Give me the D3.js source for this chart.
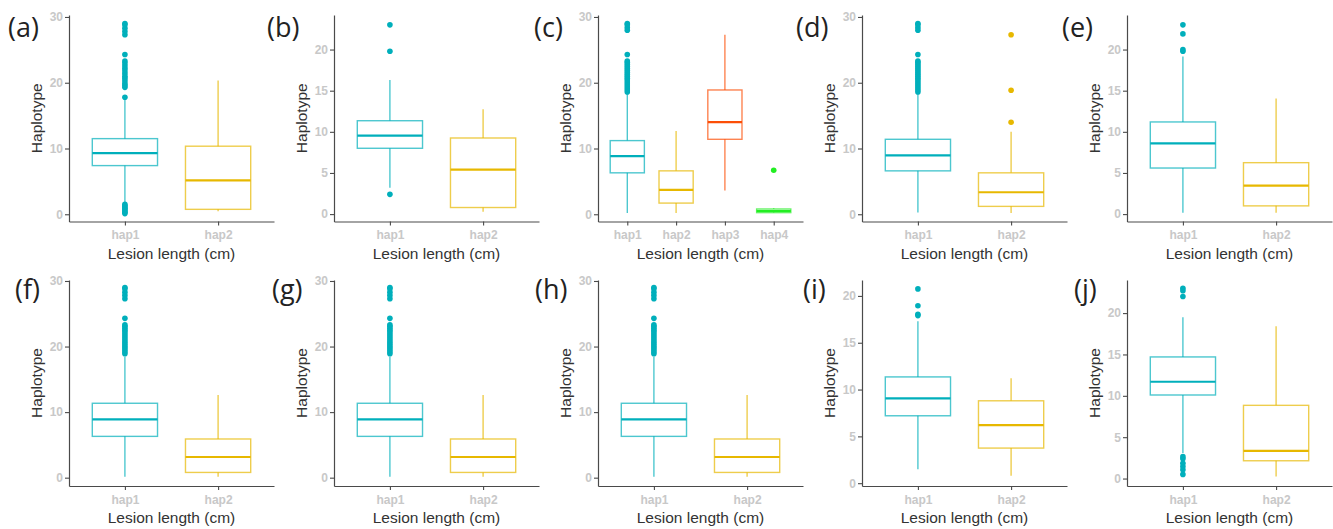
<!DOCTYPE html>
<html><head><meta charset="utf-8">
<script src="https://cdn.jsdelivr.net/npm/d3@7"></script>
<style>body{margin:0;background:#fff}</style>
</head><body><svg id="chart" width="1333" height="529"></svg>
<script>
// ---------- data ----------
const panelLabels = ["(a)","(b)","(c)","(d)","(e)","(f)","(g)","(h)","(i)","(j)"];
const panelCategories = [
  ["hap1","hap2"],["hap1","hap2"],["hap1","hap2","hap3","hap4"],["hap1","hap2"],["hap1","hap2"],
  ["hap1","hap2"],["hap1","hap2"],["hap1","hap2"],["hap1","hap2"],["hap1","hap2"]
];
const yTickValues = [
  [0,10,20,30],[0,5,10,15,20],[0,10,20,30],[0,10,20,30],[0,5,10,15,20],
  [0,10,20,30],[0,10,20,30],[0,10,20,30],[0,5,10,15,20],[0,5,10,15,20]
];
const yDomains = [
  [-1.1,30.3],[-0.9,24.2],[-1.1,30.3],[-1.1,30.3],[-0.9,24.2],
  [-1.27,30.15],[-1.27,30.15],[-1.27,30.15],[-0.3,21.7],[-0.9,24.0]
];
// box stats: [lower whisker, q1, median, q3, upper whisker]
const hap1Box = [
  [1.6,7.4,9.3,11.5,17.4],[3.2,8.0,9.55,11.35,16.3],[0.2,6.3,8.85,11.2,18.3],[0.25,6.6,8.95,11.4,18.3],[0.16,5.6,8.6,11.2,19.15],
  [0.15,6.3,8.9,11.35,18.45],[0.15,6.3,8.9,11.35,18.45],[0.15,6.3,8.9,11.35,18.45],[1.5,7.2,9.05,11.35,17.3],[3.1,10.1,11.7,14.7,19.5]
];
const hap2Box = [
  [0.45,0.75,5.15,10.35,20.35],[0.3,0.8,5.4,9.25,12.75],[0.2,1.7,3.7,6.6,12.65],[0.2,1.2,3.35,6.3,12.55],[0.16,1.0,3.45,6.25,14.05],
  [0.15,0.8,3.15,5.9,12.6],[0.15,0.8,3.15,5.9,12.6],[0.15,0.8,3.15,5.9,12.6],[0.8,3.75,6.2,8.8,11.2],[0.25,2.15,3.35,8.85,18.4]
];
const hap3Box = [null,null,[3.6,11.4,14.0,18.9,27.3],null,null,null,null,null,null,null];
const hap4Box = [null,null,[0.2,0.25,0.5,0.8,0.9],null,null,null,null,null,null,null];
const hap1Outliers = [
  [0.1,0.3,0.5,0.7,0.9,1.1,1.3,1.5,17.8,19.3,19.6,19.9,20.3,20.7,21.0,21.4,21.8,22.2,22.6,23.0,23.3,24.3,27.3,27.8,28.3,28.8,29.0],
  [2.4,19.8,23.0],
  [18.6,18.9,19.2,19.5,19.8,20.1,20.4,20.7,21.0,21.3,21.6,21.9,22.2,22.5,22.8,23.1,23.3,24.3,28.0,28.4,28.8,29.0],
  [18.6,18.9,19.2,19.5,19.8,20.1,20.4,20.7,21.0,21.3,21.6,21.9,22.2,22.5,22.8,23.1,23.3,24.3,28.0,28.4,28.8,29.0],
  [19.8,20.0,21.9,23.0],
  [18.9,19.2,19.5,19.8,20.1,20.4,20.7,21.0,21.3,21.6,21.9,22.2,22.5,22.8,23.1,23.3,24.3,27.3,27.8,28.3,28.8,29.0],
  [18.9,19.2,19.5,19.8,20.1,20.4,20.7,21.0,21.3,21.6,21.9,22.2,22.5,22.8,23.1,23.3,24.3,27.3,27.8,28.3,28.8,29.0],
  [18.9,19.2,19.5,19.8,20.1,20.4,20.7,21.0,21.3,21.6,21.9,22.2,22.5,22.8,23.1,23.3,24.3,27.3,27.8,28.3,28.8,29.0],
  [17.9,18.05,18.95,20.75],
  [0.5,1.05,1.45,1.85,2.4,2.65,22.0,22.7,23.0]
];
const hap2Outliers = [[],[],[],[14.0,18.85,27.3],[],[],[],[],[],[]];
const hap3Outliers = [[],[],[],[],[],[],[],[],[],[]];
const hap4Outliers = [[],[],[6.7],[],[],[],[],[],[],[]];
const seriesNames = ["hap1","hap2","hap3","hap4"];
const seriesColors = ["#00AFBB","#E7B800","#FC4E07","#22EE22"];
const xTitle = "Lesion length (cm)";
const yTitle = "Haplotype";

// ---------- layout ----------
const svg = d3.select("#chart");
const axisLeftX = [69,334,598,862,1127];
const plotW = 205;
const rowTop = [15,280], rowBottom = [221.5,486];
const labelPos = [[8,37],[267,37],[534,37],[796,37],[1062,37],[15,299],[272,299],[535,299],[803,299],[1074,299]];
const boxes = [hap1Box,hap2Box,hap3Box,hap4Box];
const outs = [hap1Outliers,hap2Outliers,hap3Outliers,hap4Outliers];
const color = d3.scaleOrdinal(seriesNames, seriesColors);

panelLabels.forEach((lab,i)=>{
  const row = i<5?0:1, col = i%5;
  const x0 = axisLeftX[col], top = rowTop[row], bot = rowBottom[row];
  const x = d3.scalePoint().domain(panelCategories[i]).range([x0, x0+plotW]).padding(0.6);
  const y = d3.scaleLinear().domain(yDomains[i]).range([bot, top]);
  const bw = x.step()*0.7;
  const g = svg.append("g");

  // axes
  const ya = g.append("g").attr("transform",`translate(${x0},0)`)
    .call(d3.axisLeft(y).tickValues(yTickValues[i]).tickSize(4).tickSizeOuter(0).tickPadding(2));
  const xa = g.append("g").attr("transform",`translate(0,${bot})`)
    .call(d3.axisBottom(x).tickSize(4).tickSizeOuter(0).tickPadding(5));
  [ya,xa].forEach(a=>{
    a.select(".domain").attr("stroke","#4a4a4a").attr("stroke-width",1.2);
    a.selectAll(".tick line").attr("stroke","#4a4a4a").attr("stroke-width",1.1);
    a.selectAll(".tick text").attr("fill","#c8c8c8").attr("font-family","Liberation Sans, Arial, sans-serif")
      .attr("font-weight","bold").attr("font-size","12px");
  });

  // boxes
  panelCategories[i].forEach((cat,k)=>{
    const s = boxes[k][i]; if(!s) return;
    const cx = x(cat), c = color(cat);
    const bg = g.append("g");
    bg.append("line").attr("x1",cx).attr("x2",cx).attr("y1",y(s[3])).attr("y2",y(s[4]))
      .attr("stroke",c).attr("stroke-width",1.3).attr("stroke-opacity",0.75);
    bg.append("line").attr("x1",cx).attr("x2",cx).attr("y1",y(s[0])).attr("y2",y(s[1]))
      .attr("stroke",c).attr("stroke-width",1.3).attr("stroke-opacity",0.75);
    bg.append("rect").attr("x",cx-bw/2).attr("width",bw).attr("y",y(s[3])).attr("height",Math.max(0,y(s[1])-y(s[3])))
      .attr("fill","none").attr("stroke",c).attr("stroke-width",1.4).attr("stroke-opacity",0.7);
    bg.append("line").attr("x1",cx-bw/2).attr("x2",cx+bw/2).attr("y1",y(s[2])).attr("y2",y(s[2]))
      .attr("stroke",c).attr("stroke-width",2.2);
    bg.selectAll("circle").data(outs[k][i]).join("circle")
      .attr("cx",cx).attr("cy",d=>y(d)).attr("r",2.8).attr("fill",c);
  });

  // titles
  g.append("text").attr("x",x0+plotW/2).attr("y",bot+37).attr("text-anchor","middle")
    .attr("font-family","Liberation Sans, Arial, sans-serif").attr("font-size","15.5px").attr("fill","#333")
    .text(xTitle);
  g.append("text").attr("transform",`translate(${x0-27},${(top+bot)/2}) rotate(-90)`).attr("text-anchor","middle")
    .attr("font-family","Liberation Sans, Arial, sans-serif").attr("font-size","15.5px").attr("fill","#333")
    .text(yTitle);
  g.append("text").attr("x",labelPos[i][0]).attr("y",labelPos[i][1])
    .attr("font-family","Open Sans, sans-serif").attr("font-size","27px").attr("fill","#222")
    .text(lab);
});
</script></body></html>
